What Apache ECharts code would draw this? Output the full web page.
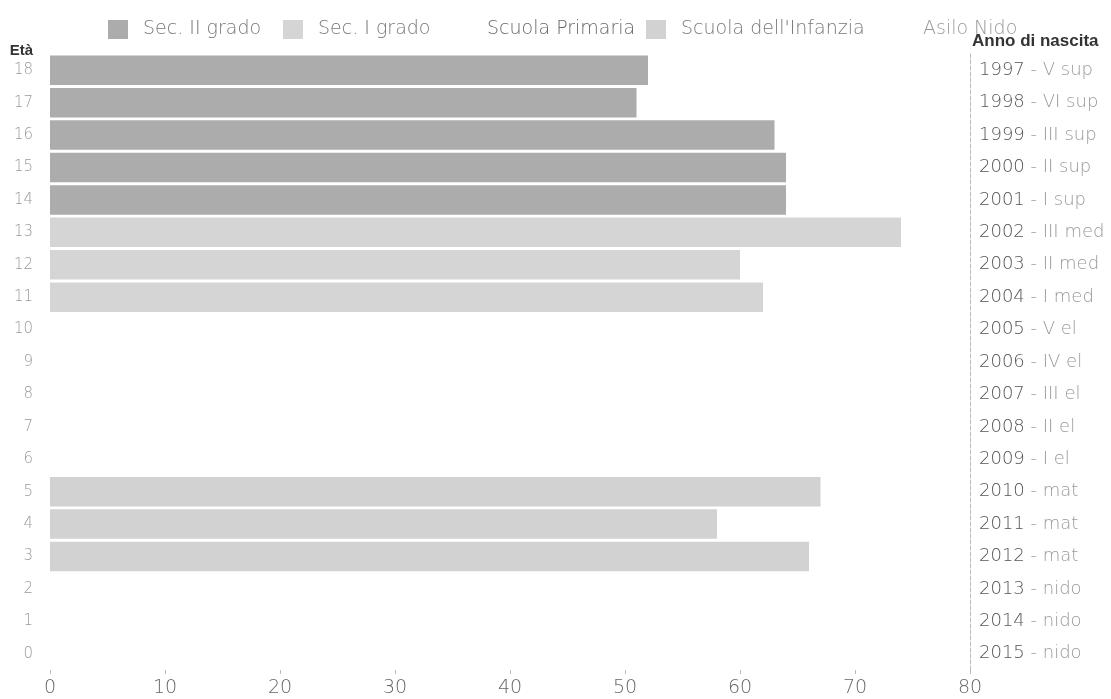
<!DOCTYPE html>
<html><head><meta charset="utf-8">
<script src="https://cdn.jsdelivr.net/npm/echarts@6/dist/echarts.min.js"></script>
<style>html,body{margin:0;padding:0;background:#fff}#c{width:1111px;height:699px}</style>
</head><body><div id="c"></div>
<script>
const ages = ['0','1','2','3','4','5','6','7','8','9','10','11','12','13','14','15','16','17','18'];
const birthYears = ['2015','2014','2013','2012','2011','2010','2009','2008','2007','2006','2005','2004','2003','2002','2001','2000','1999','1998','1997'];
const classes = ['nido','nido','nido','mat','mat','mat','I el','II el','III el','IV el','V el','I med','II med','III med','I sup','II sup','III sup','VI sup','V sup'];
const xTicks = [0,10,20,30,40,50,60,70,80];
const legendNames = ['Sec. II grado','Sec. I grado','Scuola Primaria',"Scuola dell'Infanzia",'Asilo Nido'];
// values per age (0..18); null where the school level does not apply
const secII     = [null,null,null,null,null,null,null,null,null,null,null,null,null,null,64,64,63,51,52];
const secI      = [null,null,null,null,null,null,null,null,null,null,null,62,60,74,null,null,null,null,null];
const primaria  = [null,null,null,null,null,null,0,0,0,0,0,null,null,null,null,null,null,null,null];
const infanzia  = [null,null,null,66,58,67,null,null,null,null,null,null,null,null,null,null,null,null,null];
const nido      = [0,0,0,null,null,null,null,null,null,null,null,null,null,null,null,null,null,null,null];

const rightLabels = birthYears.map((y,i)=>y+' - '+classes[i]);
const font = 'DejaVu Sans, Verdana, sans-serif';
const legendLeft = [103, 278, 447, 641, 883];
const legendColor = ['#777','#777','#666','#777','#999'];
const chart = echarts.init(document.getElementById('c'));
const mk = (name, data, color) => ({
  name, type:'bar', stack:'all', data, barCategoryGap:'9%',
  itemStyle:{color}, silent:true
});
chart.setOption({
  animation:false,
  textStyle:{fontFamily:font},
  legend: legendNames.map((n,i)=>({
    left:legendLeft[i], top:15, itemWidth:20, itemHeight:19, itemGap:0,
    selectedMode:false,
    textStyle:{fontSize:19, color:legendColor[i], fontFamily:font, fontWeight:200, padding:[0,0,0,10]},
    data:[{name:n, icon:'rect'}]
  })),
  grid:{left:50, right:141, top:54, bottom:29, containLabel:false},
  xAxis:{
    type:'value', min:0, max:80, interval:10,
    axisLine:{show:false},
    axisTick:{show:true, length:4, lineStyle:{color:'#bbb'}},
    axisLabel:{fontSize:19, color:'#666', margin:9, fontFamily:font, fontWeight:200,
      formatter:v=>xTicks.includes(v)?String(v):''},
    splitLine:{show:false}
  },
  yAxis:[
    {
      type:'category', data:ages, position:'left',
      name:'Età', nameLocation:'end', nameGap:-4,
      nameTextStyle:{fontSize:15, fontWeight:'bold', color:'#333', align:'right', padding:[0,17,0,0], fontFamily:'Liberation Sans, Arial, sans-serif'},
      axisLine:{show:false}, axisTick:{show:false},
      axisLabel:{fontSize:15, color:'#999', margin:17, fontWeight:200}
    },
    {
      type:'category', data:rightLabels, position:'right',
      name:'Anno di nascita', nameLocation:'end', nameGap:4,
      nameTextStyle:{fontSize:17, fontWeight:'bold', color:'#333', align:'left', padding:[0,0,0,2], fontFamily:'Liberation Sans, Arial, sans-serif'},
      axisLine:{show:true, lineStyle:{color:'#bbb', type:'dashed', width:1}},
      axisTick:{show:false},
      axisLabel:{margin:9, align:'left',
        formatter:(v)=>{const p=v.split(' - ');return '{y|'+p[0]+'}{s| - '+p[1]+'}';},
        rich:{y:{fontSize:18,color:'#555',fontFamily:font,fontWeight:200},s:{fontSize:18,color:'#999',fontFamily:font,fontWeight:200}}}
    }
  ],
  series:[
    mk('Sec. II grado', secII, '#acacac'),
    mk('Sec. I grado', secI, '#d5d5d5'),
    mk('Scuola Primaria', primaria, '#ffffff'),
    mk("Scuola dell'Infanzia", infanzia, '#d2d2d2'),
    mk('Asilo Nido', nido, '#ffffff')
  ]
});
</script></body></html>
